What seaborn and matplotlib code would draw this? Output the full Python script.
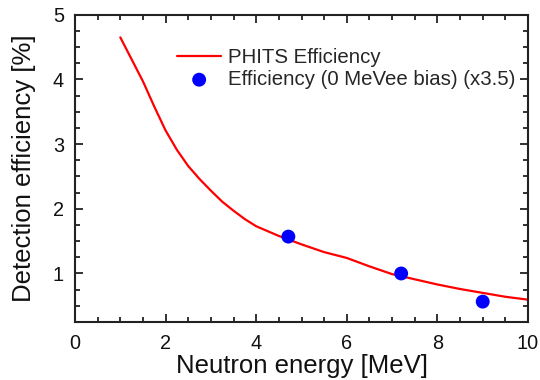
import matplotlib
matplotlib.use("Agg")
import matplotlib.pyplot as plt
from matplotlib.ticker import MultipleLocator
import seaborn as sns
import pandas as pd

# PHITS simulated efficiency curve
phits_energy = [1.0, 1.25, 1.5, 1.75, 2.0, 2.25, 2.5, 2.75, 3.0, 3.25, 3.5, 3.75,
                4.0, 4.5, 5.0, 5.5, 6.0, 6.5, 7.0, 7.5, 8.0, 8.5, 9.0, 9.5, 10.0]
phits_eff = [4.65, 4.31, 3.97, 3.58, 3.21, 2.91, 2.66, 2.46, 2.28, 2.11, 1.97, 1.84,
             1.73, 1.58, 1.45, 1.33, 1.24, 1.11, 0.99, 0.91, 0.83, 0.76, 0.70, 0.64, 0.595]

# measured efficiency (0 MeVee bias) scaled x3.5
meas_energy = [4.71, 7.2, 9.0]
meas_eff = [1.57, 1.0, 0.565]

line_label = "PHITS Efficiency"
point_label = "Efficiency (0 MeVee bias) (x3.5)"
x_label = "Neutron energy [MeV]"
y_label = "Detection efficiency [%]"

sns.set_theme(style="ticks")
plt.rcParams["font.family"] = ["Liberation Sans", "DejaVu Sans"]

df_line = pd.DataFrame({"E": phits_energy, "eff": phits_eff})
df_pts = pd.DataFrame({"E": meas_energy, "eff": meas_eff})

fig = plt.figure(figsize=(5.4, 3.8), dpi=100)
ax = fig.add_axes([75 / 540, 1 - 322 / 380, (528 - 75) / 540, (322 - 14.7) / 380])

sns.lineplot(data=df_line, x="E", y="eff", ax=ax, color="#ff0000", linewidth=1.6,
             label=line_label, sort=False)
sns.scatterplot(data=df_pts, x="E", y="eff", ax=ax, color="#0000ff", s=100,
                edgecolor="none", label=point_label, zorder=3)

ax.set_xlim(0, 10)
ax.set_ylim(0.25, 5)
ax.xaxis.set_major_locator(MultipleLocator(2))
ax.xaxis.set_minor_locator(MultipleLocator(0.5))
ax.yaxis.set_major_locator(MultipleLocator(1))
ax.yaxis.set_minor_locator(MultipleLocator(0.25))

ax.tick_params(which="both", direction="in", top=True, right=True, color="#222222",
               width=1.3)
ax.tick_params(which="major", length=6, labelsize=14.3, labelcolor="#111111")
ax.tick_params(which="minor", length=3.5)
ax.tick_params(axis="x", which="major", pad=8.5)
ax.tick_params(axis="y", which="major", pad=8)
for sp in ax.spines.values():
    sp.set_linewidth(1.5)
    sp.set_color("#222222")

ax.set_xlabel(x_label, fontsize=18.5, labelpad=1, color="#111111")
ax.set_ylabel(y_label, fontsize=18.5, labelpad=12, color="#111111")

leg = ax.legend(loc="upper left", bbox_to_anchor=(177 / 540, 1 - 48 / 380),
                bbox_transform=fig.transFigure, frameon=False, fontsize=14.7,
                handlelength=2.17, handletextpad=0.35, labelspacing=0.15,
                borderpad=0, borderaxespad=0, markerscale=1.0)

fig.savefig("out.png", dpi=100)
